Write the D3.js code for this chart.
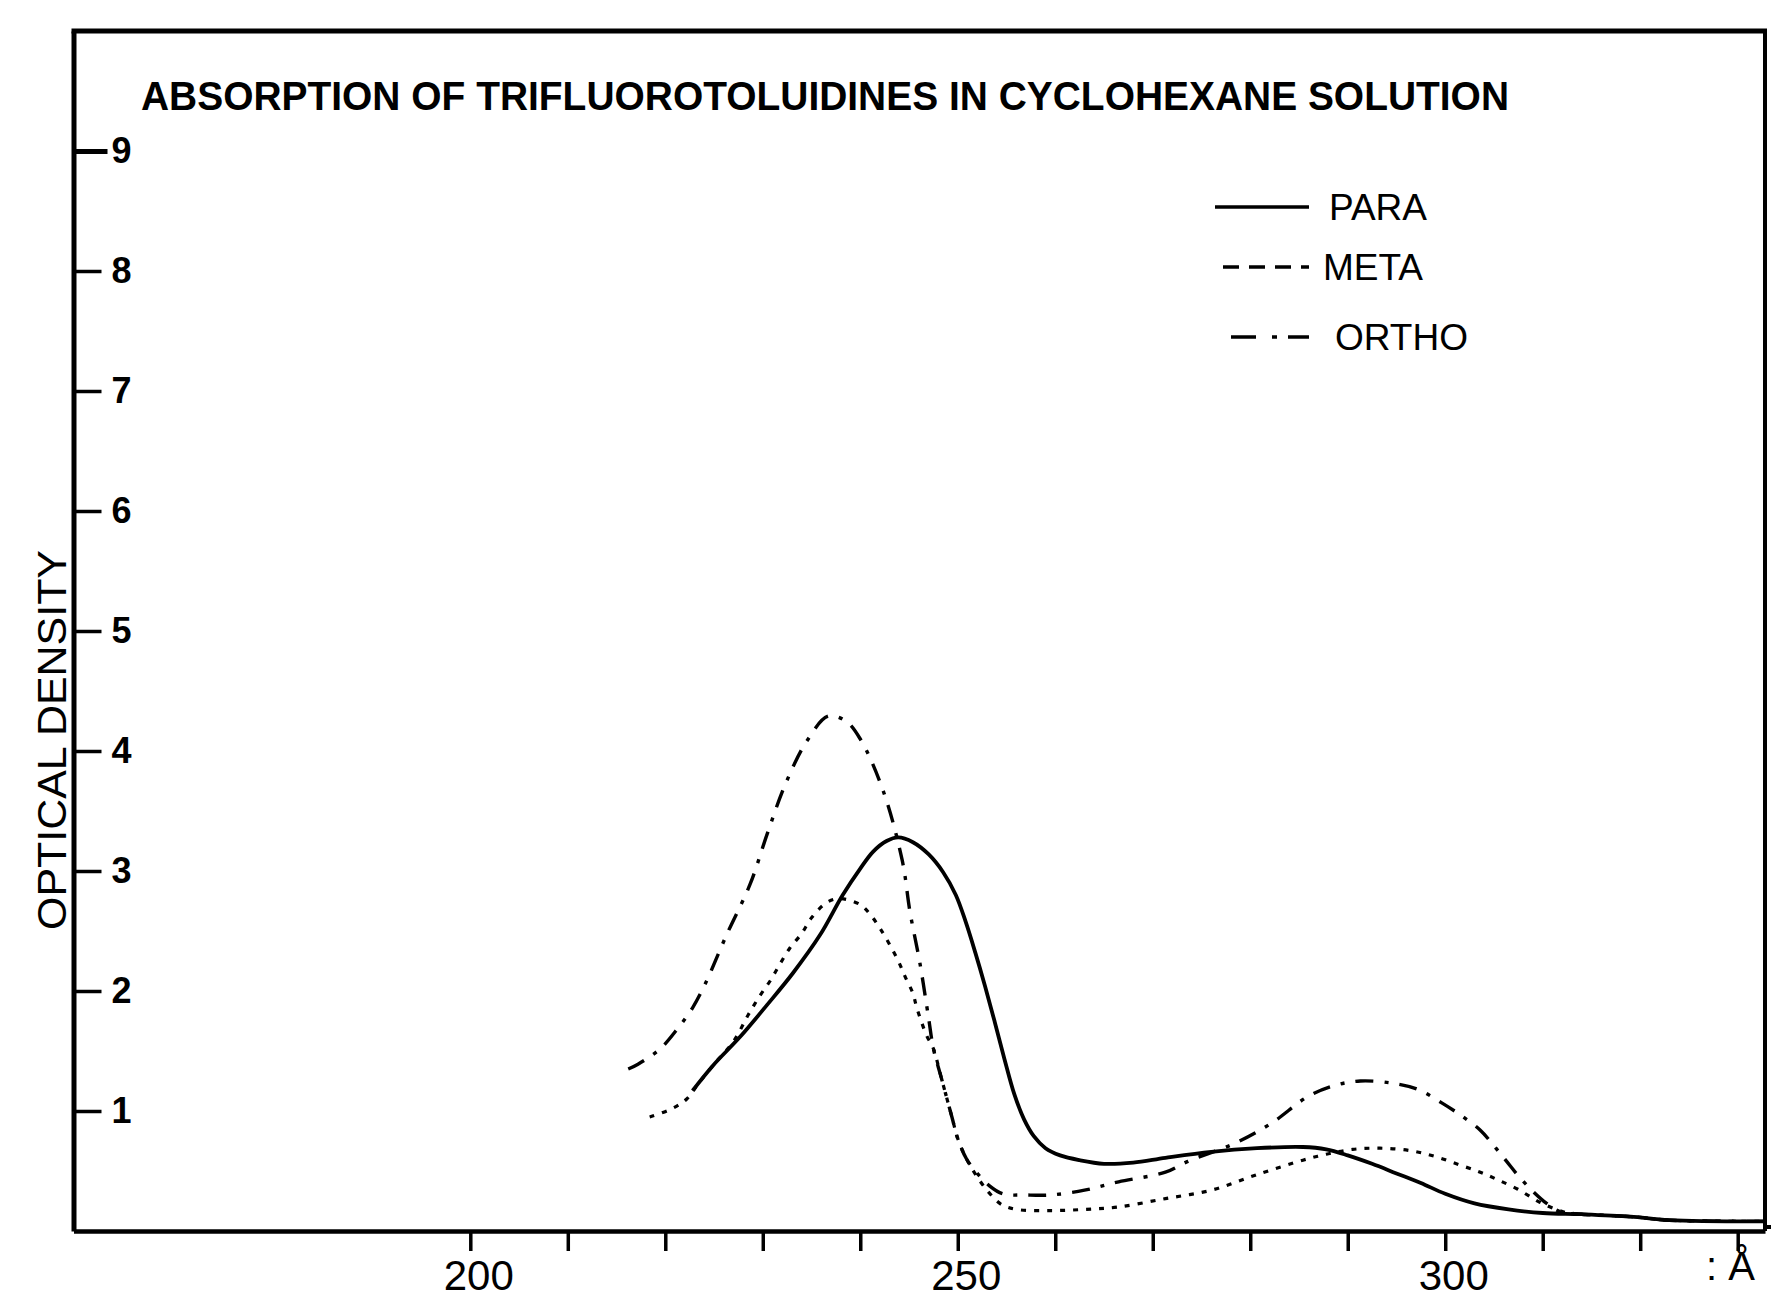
<!DOCTYPE html>
<html><head><meta charset="utf-8">
<script src="https://cdn.jsdelivr.net/npm/d3@7"></script>
<style>html,body{margin:0;padding:0;background:#fff;} svg{display:block;}</style>
</head><body>
<script>
// ---------- data ----------
const titleText = "ABSORPTION OF TRIFLUOROTOLUIDINES IN CYCLOHEXANE SOLUTION";
const yAxisTitle = "OPTICAL DENSITY";
const unitLabel = ": Å";
const seriesNames = ["PARA", "META", "ORTHO"];

const paraWavelength = [222.8,224.9,227.7,230.4,233.1,235.9,238.2,240.0,241.3,242.7,243.9,245.4,247.0,248.5,249.8,250.8,251.8,252.8,253.8,254.8,255.8,256.8,257.8,259.0,260.5,262.5,265.0,268.0,271.3,276.0,280.7,285.4,287.8,290.0,292.5,295.0,297.5,300.0,303.0,306.5,310.0,314.0,319.0,323.0,332.8];
const paraDensity    = [1.17,1.38,1.62,1.88,2.15,2.47,2.80,3.02,3.16,3.25,3.28,3.24,3.14,2.99,2.80,2.58,2.32,2.04,1.74,1.43,1.14,0.93,0.79,0.69,0.63,0.59,0.56,0.57,0.61,0.66,0.69,0.70,0.68,0.63,0.56,0.48,0.40,0.31,0.23,0.18,0.15,0.14,0.12,0.09,0.08];

const metaWavelength = [218.4,220.7,222.2,223.5,225.0,227.0,228.5,229.7,230.8,231.8,232.8,234.0,235.0,236.6,237.9,240.0,241.0,241.8,242.5,243.9,244.6,245.4,245.8,246.8,247.5,248.3,249.4,250.0,250.9,252.0,253.2,254.5,256.0,259.5,263.0,266.5,271.3,276.0,280.7,285.4,287.8,290.5,293.3,296.4,299.0,301.5,303.6,305.3,307.4,309.7,312.1,314.0,319.0,323.0,332.8];
const metaDensity    = [0.95,1.02,1.10,1.24,1.39,1.58,1.80,1.96,2.09,2.23,2.36,2.48,2.61,2.74,2.77,2.72,2.64,2.55,2.46,2.25,2.12,1.98,1.86,1.63,1.52,1.28,0.95,0.77,0.60,0.45,0.32,0.22,0.18,0.17,0.18,0.20,0.27,0.34,0.47,0.59,0.64,0.68,0.69,0.67,0.62,0.55,0.49,0.43,0.35,0.24,0.16,0.14,0.12,0.09,0.08];

const orthoWavelength = [216.2,217.2,219.5,221.3,222.8,224.1,226.3,228.7,230.5,232.3,234.5,236.7,238.5,240.0,242.3,244.3,245.1,246.1,247.0,247.5,248.3,249.4,250.0,250.9,252.0,253.2,254.6,257.0,259.5,263.0,266.5,271.3,273.6,278.4,282.2,285.9,288.5,291.3,294.7,297.2,299.6,301.5,303.6,305.0,306.3,307.5,309.0,310.4,311.8,314.0,319.0,323.0,332.8];
const orthoDensity    = [1.35,1.39,1.52,1.69,1.86,2.06,2.47,2.89,3.32,3.72,4.08,4.29,4.25,4.10,3.68,3.09,2.66,2.24,1.78,1.52,1.28,0.95,0.77,0.60,0.48,0.38,0.31,0.30,0.30,0.34,0.41,0.49,0.58,0.73,0.90,1.12,1.21,1.25,1.23,1.18,1.07,0.97,0.84,0.71,0.58,0.46,0.33,0.23,0.16,0.14,0.12,0.09,0.08];

const xTickValues  = [200,210,220,230,240,250,260,270,280,290,300,310,320,330];
const xLabelValues = [200,250,300];
const yTickValues  = [1,2,3,4,5,6,7,8,9];

// ---------- layout ----------
const W = 1771, H = 1305;
const svg = d3.select("body").append("svg").attr("width", W).attr("height", H)
  .style("font-family", "'Liberation Sans', Arial, sans-serif");

const x = d3.scaleLinear().domain([159.3, 332.8]).range([73.5, 1765]);
const y = d3.scaleLinear().domain([0, 10]).range([1231, 31]);

// frame (top and right)
svg.append("line").attr("x1", x.range()[0] - 2).attr("x2", x.range()[1] + 2)
  .attr("y1", y(10)).attr("y2", y(10)).attr("stroke", "#000").attr("stroke-width", 5);
svg.append("line").attr("x1", x.range()[1]).attr("x2", x.range()[1])
  .attr("y1", y(10)).attr("y2", y(0)).attr("stroke", "#000").attr("stroke-width", 4);

// y axis (ticks inward)
const yAxis = svg.append("g").attr("transform", `translate(${x.range()[0]},0)`)
  .call(d3.axisRight(y).tickValues(yTickValues).tickSize(28).tickPadding(10).tickSizeOuter(0));
yAxis.select(".domain").attr("stroke-width", 5);
yAxis.selectAll(".tick line").attr("stroke-width", 3.5);
yAxis.selectAll(".tick line").filter(d => d === 9).attr("x2", 34).attr("stroke-width", 5);
yAxis.selectAll(".tick text").attr("font-size", 36).attr("font-weight", "bold")
  .attr("font-family", "'Liberation Sans', Arial, sans-serif").attr("fill", "#000");

// x axis
const xAxis = svg.append("g").attr("transform", `translate(0,${y(0)})`)
  .call(d3.axisBottom(x).tickValues(xTickValues).tickSize(20).tickPadding(9).tickSizeOuter(0)
    .tickFormat(d => xLabelValues.includes(d) ? String(d) : ""));
xAxis.select(".domain").attr("stroke-width", 4.5);
xAxis.selectAll(".tick line").attr("stroke-width", 3.5);
xAxis.selectAll(".tick text").attr("font-size", 42).attr("dx", 8)
  .attr("font-family", "'Liberation Sans', Arial, sans-serif").attr("fill", "#000");
svg.append("line").attr("x1", x.range()[1]).attr("x2", W).attr("y1", y(0) - 4).attr("y2", y(0) - 4)
  .attr("stroke", "#000").attr("stroke-width", 4);
svg.append("text").attr("x", 1706).attr("y", 1280).attr("font-size", 40).attr("fill", "#000")
  .text(unitLabel);

// title
svg.append("text").attr("x", 141).attr("y", 110).attr("font-size", 40).attr("font-weight", "bold")
  .attr("textLength", 1368).attr("lengthAdjust", "spacingAndGlyphs").attr("fill", "#000")
  .attr("font-family", "'Liberation Sans Narrow', 'Liberation Sans', Arial, sans-serif")
  .text(titleText);

// y axis title
svg.append("text").attr("transform", "translate(66,740) rotate(-90)")
  .attr("text-anchor", "middle").attr("font-size", 40).attr("fill", "#000")
  .attr("textLength", 380).attr("lengthAdjust", "spacingAndGlyphs")
  .text(yAxisTitle);

// curves
svg.append("clipPath").attr("id", "plotclip").append("rect")
  .attr("x", x.range()[0]).attr("y", y(10)).attr("width", x.range()[1] - x.range()[0]).attr("height", y(0) - y(10));

const line = d3.line().x(d => x(d[0])).y(d => y(d[1])).curve(d3.curveCatmullRom.alpha(0.5));
const series = [
  { name: seriesNames[0], pts: d3.zip(paraWavelength, paraDensity), dash: null, width: 3.8, legendDash: null },
  { name: seriesNames[1], pts: d3.zip(metaWavelength, metaDensity), dash: "5,8", width: 3.2, legendDash: "16,10" },
  { name: seriesNames[2], pts: d3.zip(orthoWavelength, orthoDensity), dash: "18,11,4,11", width: 3.4, legendDash: "25,16,5,11,25" }
];
const g = svg.append("g").attr("clip-path", "url(#plotclip)");
series.forEach(s => {
  g.append("path").attr("d", line(s.pts)).attr("fill", "none").attr("stroke", "#000")
    .attr("stroke-width", s.width).attr("stroke-dasharray", s.dash);
});

// legend
const legendRows = [
  { x1: 1215, yy: 207, tx: 1329 },
  { x1: 1223, yy: 267, tx: 1323 },
  { x1: 1231, yy: 337, tx: 1335 }
];
series.forEach((s, i) => {
  const r = legendRows[i];
  svg.append("line").attr("x1", r.x1).attr("x2", 1309).attr("y1", r.yy).attr("y2", r.yy)
    .attr("stroke", "#000").attr("stroke-width", 3.6).attr("stroke-dasharray", s.legendDash);
  svg.append("text").attr("x", r.tx).attr("y", r.yy + 13).attr("font-size", 37).attr("fill", "#000")
    .text(s.name);
});
</script>
</body></html>
